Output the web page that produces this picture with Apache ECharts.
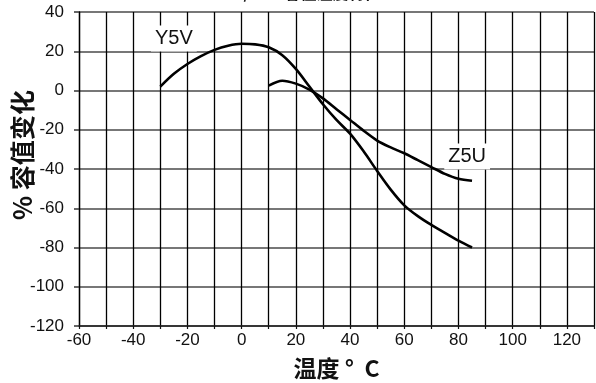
<!DOCTYPE html>
<html>
<head>
<meta charset="utf-8">
<script src="https://cdn.jsdelivr.net/npm/echarts@6/dist/echarts.min.js"></script>
<style>
  html, body { margin: 0; padding: 0; background: #fff; }
  #chart { width: 596px; height: 383px; }
</style>
</head>
<body>
<div id="chart"></div>
<script>
// Temperature characteristics of Y5V and Z5U ceramic dielectrics
const titleText = 'Y5V/Z5U 容值温度特性';
const xAxisName = '温度 °  C';
const yAxisName = '% 容值变化';

// Temperature (°C) and capacitance change (%) for each dielectric, 5 °C steps
const y5vTemp   = [-30, -25, -20, -15, -10, -5, 0, 5, 10, 15, 20, 25, 30, 35, 40, 45, 50, 55, 60, 65, 70, 75, 80, 85];
const y5vChange = [2, 8.5, 13.5, 17.5, 20.7, 22.8, 23.8, 23.5, 22, 18, 11, 2, -7, -15, -22, -31, -41, -50.5, -58.5, -64, -68.5, -72.5, -76.5, -80];

const z5uTemp   = [10, 15, 20, 25, 30, 35, 40, 45, 50, 55, 60, 65, 70, 75, 80, 85];
const z5uChange = [2.5, 5, 3.5, 0.5, -4, -9.5, -15, -20.5, -25.5, -29, -32, -35.5, -39, -42.5, -45, -46];

// Curve name labels, anchored in data coordinates
const curveLabels = [
  { text: 'Y5V', at: [-25, 26.5] },
  { text: 'Z5U', at: [83.2, -33.6] }
];

// Axis ranges
const xMin = -60, xMax = 130, xStep = 10, xLabelStep = 20;
const yMin = -120, yMax = 40, yStep = 20;

const zip = (xs, ys) => xs.map((x, i) => [x, ys[i]]);

const latin = '"Liberation Sans", Arial, sans-serif';
const cjk = '"Noto Sans CJK SC", "Noto Sans", sans-serif';

const chart = echarts.init(document.getElementById('chart'), null, { renderer: 'canvas' });

chart.setOption({
  animation: false,
  backgroundColor: '#fff',
  title: {
    text: titleText,
    left: 'center',
    top: -15,
    padding: 0,
    textStyle: { fontFamily: cjk, fontSize: 16, fontWeight: 'bold', color: '#111' }
  },
  grid: { left: 79, right: 2, top: 12, bottom: 57, containLabel: false, outerBoundsMode: 'none' },
  xAxis: {
    type: 'value',
    min: xMin, max: xMax, interval: xStep,
    name: xAxisName,
    nameLocation: 'middle',
    nameGap: 31,
    nameMoveOverlap: false,
    nameTextStyle: { fontFamily: cjk, fontSize: 23, fontWeight: 'bold', color: '#111' },
    axisLine: { show: true, onZero: false, lineStyle: { color: '#222', width: 1.5 } },
    axisTick: { show: true, length: 3, lineStyle: { color: '#111', width: 1.2 } },
    axisLabel: {
      margin: 6,
      fontFamily: latin, fontSize: 17, color: '#111',
      formatter: v => (v % xLabelStep === 0 && v !== xMax) ? String(v) : ''
    },
    splitLine: { show: true, lineStyle: { color: '#000', width: 1.3 } }
  },
  yAxis: {
    type: 'value',
    min: yMin, max: yMax, interval: yStep,
    name: yAxisName,
    nameLocation: 'middle',
    nameGap: 44,
    nameMoveOverlap: false,
    nameTextStyle: { fontFamily: cjk, fontSize: 25, fontWeight: 'bold', color: '#111', padding: [0, 0, 0, 28] },
    axisLine: { show: true, onZero: false, lineStyle: { color: '#000', width: 1.3 } },
    axisTick: { show: true, length: 5, lineStyle: { color: '#333', width: 1.5 } },
    axisLabel: { margin: 15, fontFamily: latin, fontSize: 17, color: '#111' },
    splitLine: { show: true, lineStyle: { color: '#777', width: 2 } }
  },
  series: [
    {
      name: 'Y5V', type: 'line', smooth: 0.3, symbol: 'none',
      data: zip(y5vTemp, y5vChange),
      lineStyle: { color: '#000', width: 2.6 },
      z: 3
    },
    {
      name: 'Z5U', type: 'line', smooth: 0.3, symbol: 'none',
      data: zip(z5uTemp, z5uChange),
      lineStyle: { color: '#000', width: 2.6 },
      z: 3
    }
  ]
});

// Curve labels sit on white boxes above the grid
chart.setOption({
  graphic: curveLabels.map(l => {
    const p = chart.convertToPixel({ gridIndex: 0 }, l.at);
    return {
      type: 'text',
      x: p[0], y: p[1],
      z: 10,
      style: {
        text: l.text,
        align: 'center', verticalAlign: 'middle',
        fontFamily: latin, fontSize: 20, fill: '#111',
        backgroundColor: '#fff',
        padding: [3, 4, 3, 4]
      }
    };
  })
});
</script>
</body>
</html>
